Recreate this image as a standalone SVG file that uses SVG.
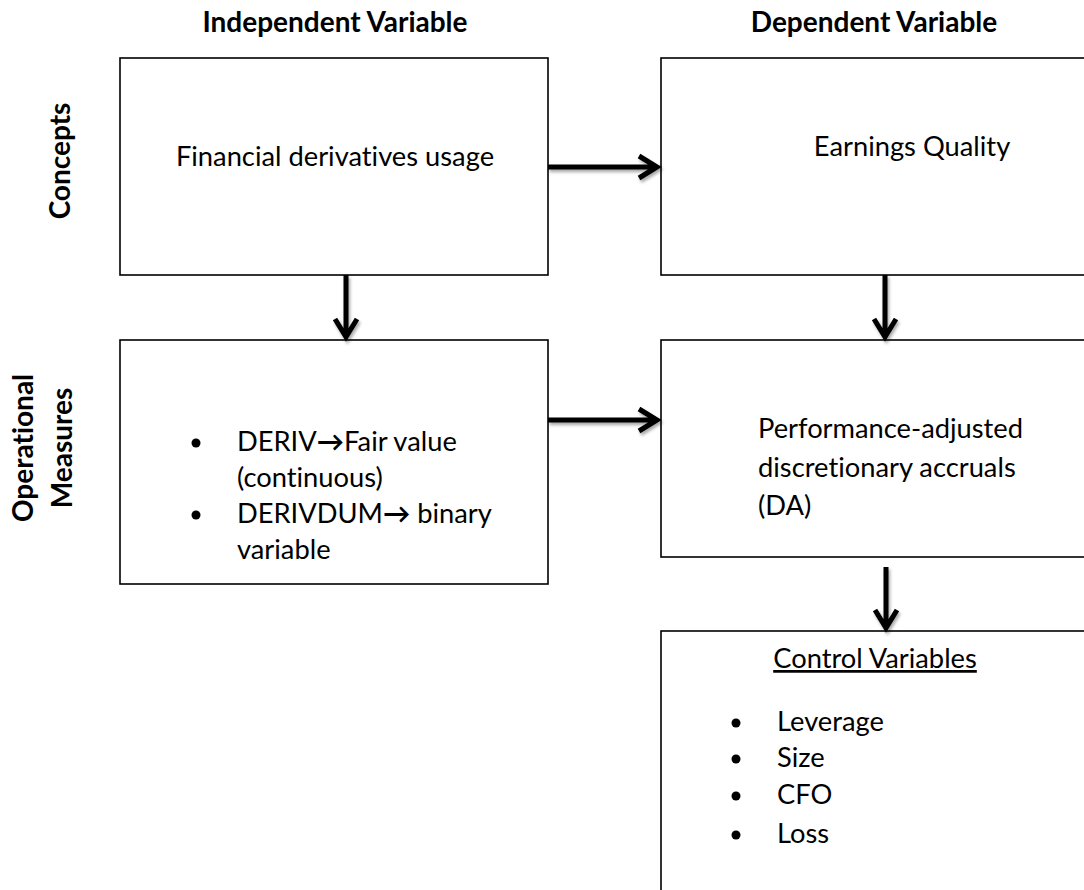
<svg xmlns="http://www.w3.org/2000/svg" width="1084" height="890" viewBox="0 0 1084 890">
  <defs>
    <filter id="sh" x="-30%" y="-30%" width="160%" height="160%">
      <feDropShadow dx="1.5" dy="2.5" stdDeviation="1.5" flood-color="#000" flood-opacity="0.35"/>
    </filter>
  </defs>
  <style>
    .box { fill: #fff; stroke: #000; stroke-width: 1.6; }
    .t { font-family: Lato, "Liberation Sans", sans-serif; font-size: 27.3px; fill: #000; font-variant-ligatures: none; }
    .b { font-weight: bold; font-size: 28px; }
    .c { text-anchor: middle; }
    .ar { font-weight: bold; }
    .arr { fill: none; stroke: #000; stroke-width: 5; stroke-linejoin: miter; stroke-linecap: butt; }
    .dot { fill: #000; }
  </style>
  <rect width="1084" height="890" fill="#fff"/>

  <g id="header-independent"><text class="t b c" x="335" y="32">Independent Variable</text></g>
  <g id="header-dependent"><text class="t b c" x="874" y="32">Dependent Variable</text></g>
  <g id="row-concepts"><text class="t b c" transform="translate(70,161) rotate(-90)">Concepts</text></g>
  <g id="row-operational">
    <text class="t b c" transform="translate(33,448) rotate(-90)">Operational</text>
    <text class="t b c" transform="translate(72,448) rotate(-90)">Measures</text>
  </g>

  <g id="node-financial-derivatives">
    <rect class="box" x="120" y="58" width="428" height="217"/>
    <text class="t c" x="335" y="166">Financial derivatives usage</text>
  </g>

  <g id="node-earnings-quality">
    <rect class="box" x="661" y="58" width="440" height="217"/>
    <text class="t c" x="912" y="156">Earnings Quality</text>
  </g>

  <g id="node-operational-measures">
    <rect class="box" x="120" y="340" width="428" height="244"/>
    <circle class="dot" cx="196" cy="443" r="4.5"/>
    <text class="t" x="237" y="451">DERIV<tspan class="ar">→</tspan>Fair value</text>
    <text class="t" x="237" y="487">(continuous)</text>
    <circle class="dot" cx="196" cy="515" r="4.5"/>
    <text class="t" x="237" y="523">DERIVDUM<tspan class="ar">→</tspan> binary</text>
    <text class="t" x="237" y="559">variable</text>
  </g>

  <g id="node-da">
    <rect class="box" x="661" y="340" width="440" height="217"/>
    <text class="t" x="758" y="438">Performance-adjusted</text>
    <text class="t" x="758" y="477">discretionary accruals</text>
    <text class="t" x="758" y="515">(DA)</text>
  </g>

  <g id="node-control-variables">
    <rect class="box" x="661" y="631" width="440" height="280"/>
    <text class="t c" x="875" y="668" text-decoration="underline">Control Variables</text>
    <circle class="dot" cx="736" cy="723" r="4.5"/>
    <text class="t" x="777" y="731">Leverage</text>
    <circle class="dot" cx="736" cy="759" r="4.5"/>
    <text class="t" x="777" y="767">Size</text>
    <circle class="dot" cx="736" cy="796" r="4.5"/>
    <text class="t" x="777" y="804">CFO</text>
    <circle class="dot" cx="736" cy="835" r="4.5"/>
    <text class="t" x="777" y="843">Loss</text>
  </g>

  <g id="connectors" filter="url(#sh)">
    <path class="arr" d="M548,167 H656 M639,156 L657,167 L639,178"/>
    <path class="arr" d="M548,420 H656 M639,409 L657,420 L639,431"/>
    <path class="arr" d="M346,275 V337 M335,319 L346,337 L357,319"/>
    <path class="arr" d="M885,275 V337 M874,319 L885,337 L896,319"/>
    <path class="arr" d="M886,567 V628 M875,610 L886,628 L897,610"/>
  </g>
</svg>
